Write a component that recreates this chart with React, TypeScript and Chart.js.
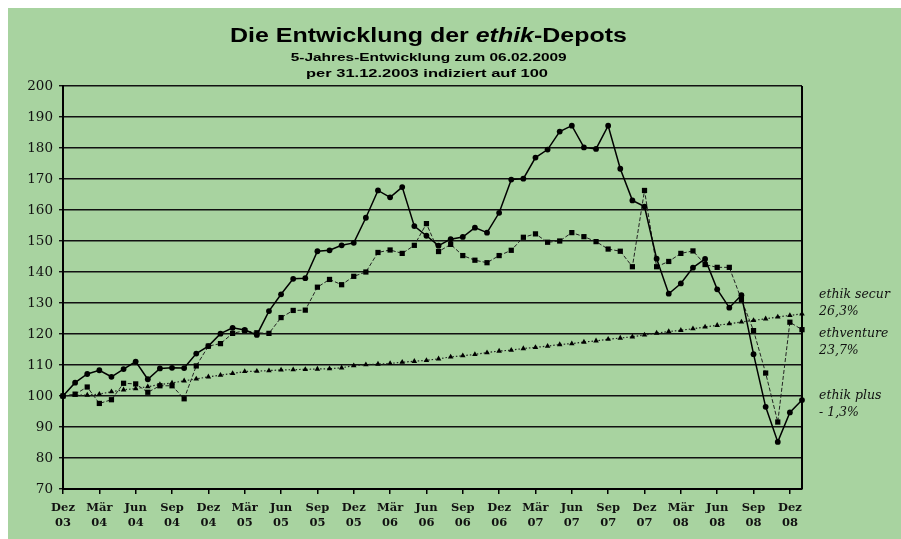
import React, { useEffect, useRef } from "react";
import { Chart, registerables } from "chart.js";

Chart.register(...registerables);

const categories: string[] = [
  "Dez 03",
  "Jan 04", "Feb 04", "Mär 04", "Apr 04", "Mai 04", "Jun 04", "Jul 04", "Aug 04", "Sep 04", "Okt 04", "Nov 04", "Dez 04",
  "Jan 05", "Feb 05", "Mär 05", "Apr 05", "Mai 05", "Jun 05", "Jul 05", "Aug 05", "Sep 05", "Okt 05", "Nov 05", "Dez 05",
  "Jan 06", "Feb 06", "Mär 06", "Apr 06", "Mai 06", "Jun 06", "Jul 06", "Aug 06", "Sep 06", "Okt 06", "Nov 06", "Dez 06",
  "Jan 07", "Feb 07", "Mär 07", "Apr 07", "Mai 07", "Jun 07", "Jul 07", "Aug 07", "Sep 07", "Okt 07", "Nov 07", "Dez 07",
  "Jan 08", "Feb 08", "Mär 08", "Apr 08", "Mai 08", "Jun 08", "Jul 08", "Aug 08", "Sep 08", "Okt 08", "Nov 08", "Dez 08",
  "Jan 09",
];

const ethikPlus: number[] = [
  100, 104.3, 107.1, 108.3, 106.2, 108.7, 111.1, 105.4, 108.9, 109.1, 109.0, 113.7, 116.1,
  120.1, 122.0, 121.3, 119.7, 127.4, 132.8, 137.8, 138.0, 146.7, 147.0, 148.6, 149.4,
  157.5, 166.3, 164.1, 167.4, 154.8, 151.7, 148.5, 150.6, 151.3, 154.3, 152.7, 159.1,
  169.8, 170.1, 176.9, 179.5, 185.3, 187.2, 180.2, 179.7, 187.2, 173.3, 163.1, 161.1,
  144.3, 133.0, 136.3, 141.4, 144.2, 134.4, 128.5, 132.5, 113.5, 96.5, 85.2, 94.7,
  98.7,
];

const ethventure: number[] = [
  100, 100.6, 102.9, 97.6, 98.8, 104.1, 103.9, 101.2, 103.3, 103.3, 99.1, 109.7, 116.1,
  116.9, 120.2, 121.1, 120.4, 120.2, 125.3, 127.6, 127.7, 135.1, 137.6, 135.9, 138.6,
  140.0, 146.3, 147.1, 146.0, 148.6, 155.6, 146.6, 148.9, 145.3, 143.8, 143.0, 145.3,
  147.0, 151.2, 152.3, 149.6, 150.0, 152.7, 151.4, 149.8, 147.4, 146.7, 141.7, 166.3,
  141.7, 143.4, 146.0, 146.8, 142.4, 141.5, 141.5, 131.1, 121.1, 107.4, 91.6, 123.8,
  121.4,
];

const ethikSecur: number[] = [
  100, 100.3, 100.3, 100.6, 101.4, 102.0, 102.4, 103.0, 103.7, 104.2, 104.9, 105.5, 106.2,
  106.7, 107.3, 107.9, 108.0, 108.2, 108.4, 108.5, 108.6, 108.7, 108.8, 109.1, 109.8,
  110.1, 110.3, 110.5, 110.9, 111.2, 111.5, 112.0, 112.6, 113.0, 113.4, 114.0, 114.5,
  114.8, 115.3, 115.7, 116.1, 116.6, 116.9, 117.4, 117.8, 118.3, 118.7, 119.1, 119.7,
  120.3, 120.8, 121.2, 121.7, 122.3, 122.8, 123.3, 123.9, 124.4, 124.9, 125.5, 126.0,
  126.5,
];

const yTicks: number[] = [70, 80, 90, 100, 110, 120, 130, 140, 150, 160, 170, 180, 190, 200];

const endLabels: { lines: string[]; anchor: number }[] = [
  { lines: ["ethik secur", "26,3%"], anchor: 132.6 },
  { lines: ["ethventure", "23,7%"], anchor: 120.0 },
  { lines: ["ethik plus", "- 1,3%"], anchor: 100.0 },
];

const titleParts = [
  { text: "Die Entwicklung der ", italic: false },
  { text: "ethik", italic: true },
  { text: "-Depots", italic: false },
];
const subtitle1 = "5-Jahres-Entwicklung zum 06.02.2009";
const subtitle2 = "per 31.12.2003 indiziert auf 100";

const BG = "#a8d3a0";

function drawStretched(
  ctx: CanvasRenderingContext2D,
  parts: { text: string; italic: boolean }[],
  size: number,
  cx: number,
  baseline: number,
  targetW: number
) {
  const fontFor = (it: boolean) =>
    `${it ? "italic " : ""}bold ${size}px "Liberation Sans", Arial, sans-serif`;
  let total = 0;
  const widths = parts.map((p) => {
    ctx.font = fontFor(p.italic);
    const w = ctx.measureText(p.text).width;
    total += w;
    return w;
  });
  const sx = targetW / total;
  ctx.save();
  ctx.translate(cx - targetW / 2, baseline);
  ctx.scale(sx, 1);
  ctx.textBaseline = "alphabetic";
  ctx.textAlign = "left";
  ctx.fillStyle = "#000";
  let x = 0;
  parts.forEach((p, i) => {
    ctx.font = fontFor(p.italic);
    ctx.fillText(p.text, x, 0);
    x += widths[i];
  });
  ctx.restore();
}

const decorPlugin = {
  id: "decor",
  beforeDraw(chart: any) {
    const { ctx, width, height } = chart;
    ctx.save();
    ctx.fillStyle = BG;
    ctx.fillRect(0, 0, width, height);
    ctx.restore();
  },
  afterDraw(chart: any) {
    const { ctx, chartArea } = chart;
    const yScale = chart.scales.y;
    drawStretched(ctx, titleParts, 20, 420.5, 33.7, 397);
    drawStretched(ctx, [{ text: subtitle1, italic: false }], 11.5, 420.7, 52.7, 276);
    drawStretched(ctx, [{ text: subtitle2, italic: false }], 11.5, 419, 68.7, 242);

    // right border of plot area
    ctx.save();
    ctx.strokeStyle = "#000";
    ctx.lineWidth = 2;
    ctx.beginPath();
    ctx.moveTo(chartArea.right, chartArea.top);
    ctx.lineTo(chartArea.right, chartArea.bottom);
    ctx.stroke();
    ctx.restore();

    // end labels
    ctx.save();
    ctx.fillStyle = "#111";
    ctx.font = 'italic 12.5px "DejaVu Serif", serif';
    ctx.textAlign = "left";
    ctx.textBaseline = "middle";
    endLabels.forEach((l) => {
      const y0 = yScale.getPixelForValue(l.anchor);
      l.lines.forEach((t, i) => ctx.fillText(t, chartArea.right + 17, y0 + i * 17));
    });
    ctx.restore();
  },
};

export default function App() {
  const ref = useRef<HTMLCanvasElement | null>(null);
  useEffect(() => {
    if (!ref.current) return;
    const chart = new Chart(ref.current, {
      type: "line",
      data: {
        labels: categories,
        datasets: [
          {
            label: "ethik plus",
            data: ethikPlus,
            borderColor: "#000",
            backgroundColor: "#000",
            borderWidth: 1.5,
            pointStyle: "circle",
            pointRadius: 2.9,
            pointBorderWidth: 0,
            tension: 0,
          },
          {
            label: "ethventure",
            data: ethventure,
            borderColor: "#222",
            backgroundColor: "#000",
            borderWidth: 1,
            borderDash: [4, 2],
            pointStyle: "rect",
            pointRadius: 3.7,
            pointBorderWidth: 0,
            tension: 0,
          },
          {
            label: "ethik secur",
            data: ethikSecur,
            borderColor: "#222",
            backgroundColor: "#000",
            borderWidth: 1.2,
            borderDash: [1.5, 2],
            pointStyle: "triangle",
            pointRadius: 3.2,
            pointBorderWidth: 0,
            tension: 0,
          },
        ],
      },
      options: {
        animation: false,
        responsive: false,
        maintainAspectRatio: false,
        layout: { padding: { top: 78, right: 99, left: 0, bottom: 0 } },
        plugins: {
          legend: { display: false },
          title: { display: false },
          tooltip: { enabled: false },
        },
        scales: {
          x: {
            type: "category",
            offset: false,
            afterBuildTicks: (scale: any) => {
              scale.ticks = scale.ticks.filter((t: any) => t.value % 3 === 0);
            },
            afterFit: (scale: any) => {
              scale.height = 50;
            },
            ticks: {
              autoSkip: false,
              maxRotation: 0,
              minRotation: 0,
              padding: 7,
              color: "#111",
              font: { family: '"DejaVu Serif", serif', weight: "bold", size: 11.5, lineHeight: 1.3 },
              callback: function (this: any, value: any) {
                const lab = categories[value as number];
                return lab.split(" ");
              },
            },
            grid: {
              drawOnChartArea: false,
              drawTicks: true,
              tickLength: 5,
              color: "#000",
              lineWidth: 1.5,
            },
            border: { display: true, color: "#000", width: 2 },
          },
          y: {
            min: 70,
            max: 200,
            afterBuildTicks: (scale: any) => {
              scale.ticks = yTicks.map((v) => ({ value: v }));
            },
            afterFit: (scale: any) => {
              scale.width = 55;
            },
            ticks: {
              padding: 6,
              color: "#111",
              font: { family: '"DejaVu Serif", serif', size: 13.5 },
            },
            grid: {
              drawOnChartArea: true,
              drawTicks: true,
              tickLength: 4,
              color: "#111",
              lineWidth: 1.4,
            },
            border: { display: true, color: "#000", width: 2 },
          },
        },
      },
      plugins: [decorPlugin],
    } as any);
    return () => chart.destroy();
  }, []);

  return (
    <div style={{ position: "absolute", left: 8, top: 8, right: 0, bottom: 0, background: BG }}>
      <canvas ref={ref} width={893} height={531} style={{ display: "block", width: 893, height: 531 }} />
    </div>
  );
}
